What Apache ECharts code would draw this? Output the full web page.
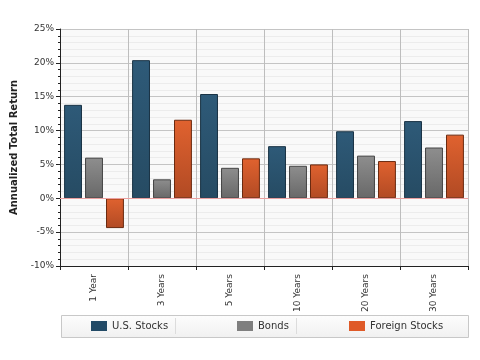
<!DOCTYPE html>
<html><head><meta charset="utf-8">
<script src="https://cdn.jsdelivr.net/npm/echarts@6/dist/echarts.min.js"></script>
<style>html,body{margin:0;padding:0;background:#fff}#c{width:480px;height:360px}</style>
</head><body><div id="c"></div>
<script>
const categories = ['1 Year','3 Years','5 Years','10 Years','20 Years','30 Years'];
const usStocks = [13.8, 20.4, 15.4, 7.7, 9.9, 11.4];
const bonds = [6.0, 2.8, 4.5, 4.8, 6.3, 7.5];
const foreignStocks = [-4.4, 11.6, 5.9, 5.0, 5.5, 9.4];
const seriesNames = ['U.S. Stocks','Bonds','Foreign Stocks'];

const chart = echarts.init(document.getElementById('c'), null, {renderer:'canvas'});
const F = 'DejaVu Sans, Verdana, sans-serif';
function grad(a,b){return new echarts.graphic.LinearGradient(0,0,0,1,[{offset:0,color:a},{offset:1,color:b}]);}
const styles = [
  {color: grad('#2e5a78','#264b63'), borderColor:'#1a3345', solid:'#224a66'},
  {color: grad('#8e8e8e','#686868'), borderColor:'#444', solid:'#7f7f7f'},
  {color: grad('#e0622f','#b14a24'), borderColor:'#6a2a10', solid:'#df5a28'}
];
const data = [usStocks, bonds, foreignStocks];
const series = data.map((d,i)=>({
  name: seriesNames[i], type:'bar', data:d,
  barCategoryGap:'12%', barGap:'17%',
  itemStyle:{color:styles[i].color, borderColor:styles[i].borderColor, borderWidth:1},
  emphasis:{disabled:true}
}));
series[0].markLine = {silent:true, symbol:'none', label:{show:false},
  lineStyle:{color:'#eaa0a0', width:1, type:'solid'}, data:[{yAxis:0}]};

const legends = [
  {left:86, name:seriesNames[0]},
  {left:232, name:seriesNames[1]},
  {left:344, name:seriesNames[2]}
].map((l,i)=>({
  left:l.left, top:316, icon:'rect',
  data:[{name:l.name, itemStyle:{color:styles[i].solid, borderWidth:0}}],
  itemWidth:16, itemHeight:10, itemGap:6, selectedMode:false,
  textStyle:{fontFamily:F, fontSize:10, color:'#333'}
}));

chart.setOption({
  animation:false,
  backgroundColor:'#fff',
  grid:{left:60, right:12, top:29, bottom:94, show:true, backgroundColor:'#f9f9f9', borderWidth:0},
  legend: legends,
  graphic:[
    {type:'rect', left:61, top:315, shape:{width:407, height:22, r:0},
     style:{fill:new echarts.graphic.LinearGradient(0,0,0,1,[{offset:0,color:'#fdfdfd'},{offset:1,color:'#f0f0f0'}]), stroke:'#c8c8c8', lineWidth:1}, z:-1},
    {type:'line', shape:{x1:175.5,y1:318,x2:175.5,y2:334}, style:{stroke:'#dcdcdc'}},
    {type:'line', shape:{x1:296.5,y1:318,x2:296.5,y2:334}, style:{stroke:'#dcdcdc'}}
  ],
  xAxis:{type:'category', data:categories,
    axisLine:{onZero:false, lineStyle:{color:'#222'}},
    axisTick:{show:true, length:4, lineStyle:{color:'#222'}},
    splitLine:{show:true, lineStyle:{color:'#bdbdbd'}},
    axisLabel:{rotate:90, fontFamily:F, fontSize:9, color:'#333', margin:8}
  },
  yAxis:{type:'value', min:-10, max:25, interval:5,
    name:'Annualized Total Return', nameLocation:'middle', nameGap:37,
    nameTextStyle:{fontFamily:F, fontSize:10, fontWeight:'bold', color:'#222'},
    axisLine:{show:true, lineStyle:{color:'#222'}},
    axisTick:{show:true, length:4, lineStyle:{color:'#222'}},
    minorTick:{show:true, splitNumber:5, length:2, lineStyle:{color:'#222'}},
    splitLine:{show:true, lineStyle:{color:'#c4c4c4'}},
    minorSplitLine:{show:true, lineStyle:{color:'#ececec'}},
    axisLabel:{formatter:'{value}%', fontFamily:F, fontSize:9, color:'#333', margin:6}
  },
  series: series
});
</script></body></html>
